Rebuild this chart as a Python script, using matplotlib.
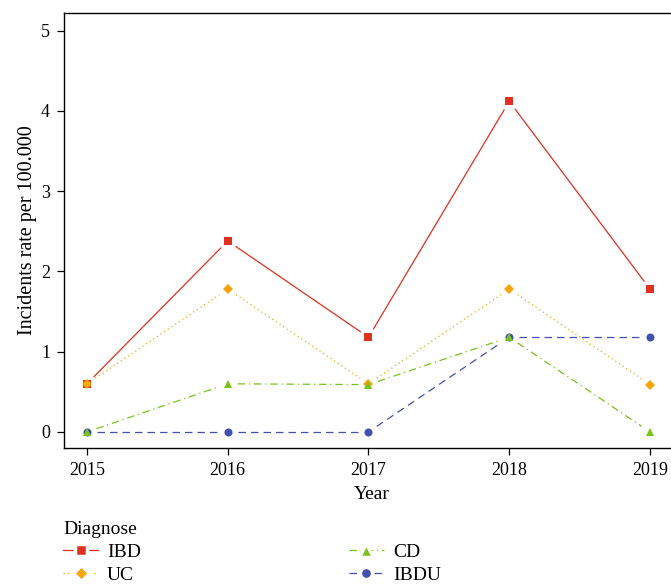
import numpy as np
import matplotlib
matplotlib.use("Agg")
import matplotlib.pyplot as plt
from matplotlib.lines import Line2D

plt.rcParams['font.family'] = ['Liberation Serif', 'DejaVu Serif']

years = [2015, 2016, 2017, 2018, 2019]
ibd = [0.60, 2.38, 1.18, 4.12, 1.78]
uc = [0.60, 1.78, 0.60, 1.78, 0.59]
cd = [0.0, 0.60, 0.59, 1.18, 0.0]
ibdu = [0.0, 0.0, 0.0, 1.18, 1.18]

# name, values, colour, line style, marker, marker size
series = [
    ('IBD', ibd, '#e03020', '-', 's', 6.0),
    ('UC', uc, '#f5a50a', (0, (1, 2.5)), 'D', 5.5),
    ('IBDU', ibdu, '#4450b0', (0, (6, 4)), 'o', 5.8),
    ('CD', cd, '#78c21c', (0, (6, 3, 1, 3)), '^', 6.3),
]
GAP = 10  # pixels left free around each marker

fig = plt.figure(figsize=(6.71, 5.86), dpi=100)
ax = fig.add_axes([0.0954, 0.2355, 0.918, 0.7423])
ax.set_xlim(2014.837, 2019.213)
ax.set_ylim(-0.2, 5.22)

handles = {}
for name, vals, col, ls, mk, ms in series:
    pix = ax.transData.transform(np.column_stack([years, vals]))
    inv = ax.transData.inverted()
    for i in range(len(years) - 1):
        a, b = pix[i], pix[i + 1]
        d = (b - a) / np.hypot(*(b - a))
        seg = inv.transform(np.array([a + d * GAP, b - d * GAP]))
        ax.plot(seg[:, 0], seg[:, 1], color=col, lw=0.9, linestyle=ls)
    ax.plot(years, vals, linestyle='none', marker=mk, markersize=ms,
            color=col, markeredgewidth=0, zorder=3)
    # white edge opens a small gap in the legend line around the marker
    extra = 4.0 if mk == '^' else 3.0
    handles[name] = Line2D([], [], color=col, lw=0.9, linestyle=ls, marker=mk,
                           markersize=ms + extra, markeredgecolor='white',
                           markeredgewidth=2.5)

ax.set_xticks(years)
ax.set_yticks([0, 1, 2, 3, 4, 5])
ax.tick_params(direction='out', length=5, width=0.9, labelsize=13, pad=5)
for s in ax.spines.values():
    s.set_linewidth(1.0)
ax.set_xlabel('Year', fontsize=14, labelpad=5)
ax.set_ylabel('Incidents rate per 100.000', fontsize=14.5, labelpad=3)

order = ['IBD', 'UC', 'CD', 'IBDU']
leg = fig.legend([handles[n] for n in order], order, title='Diagnose',
                 loc='center left', bbox_to_anchor=(0.094, 0.057),
                 ncol=2, frameon=False, fontsize=14, title_fontsize=14,
                 handlelength=1.8, handletextpad=0.46, columnspacing=10.7,
                 labelspacing=0.27, borderpad=0, borderaxespad=0,
                 alignment='left')

fig.savefig('out.png', dpi=100)
